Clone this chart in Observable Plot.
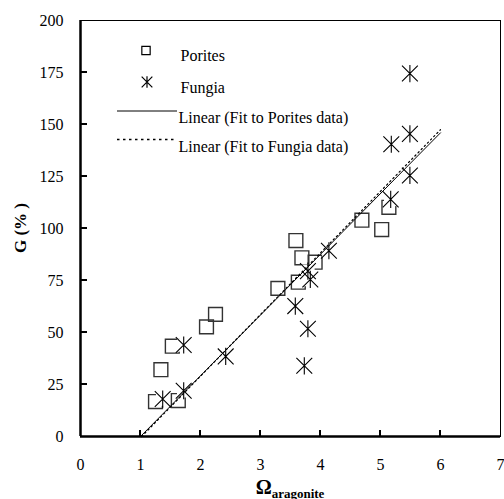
<!DOCTYPE html>
<html>
<head>
<meta charset="utf-8">
<script src="https://cdn.jsdelivr.net/npm/d3@7"></script>
<script src="https://cdn.jsdelivr.net/npm/@observablehq/plot@0.6"></script>
<style>
  html, body { margin: 0; padding: 0; background: #fff; }
  svg { display: block; }
  svg text { font-family: "Liberation Serif", "Times New Roman", serif !important; }
</style>
</head>
<body>
<div id="chart"></div>
<script>
// Porites data (squares)
const poritesX = [1.25, 1.63, 1.34, 1.53, 2.10, 2.25, 3.29, 3.63, 3.69, 3.91, 3.59, 4.69, 5.02, 5.14];
const poritesG = [16.8, 17.3, 32.1, 43.4, 52.7, 58.7, 71.2, 74.2, 85.9, 83.8, 94.2, 104.0, 99.5, 110.2];
// Fungia data (asterisks)
const fungiaX = [1.37, 1.72, 1.72, 2.42, 3.58, 3.73, 3.79, 3.79, 3.83, 4.14, 5.17, 5.18, 5.49, 5.49, 5.49];
const fungiaG = [18.0, 22.0, 44.0, 38.5, 62.7, 34.0, 51.8, 79.5, 75.5, 89.3, 114.0, 140.5, 125.5, 145.5, 174.5];
// Linear fits (endpoints)
const poritesFitX = [1.0, 6.0];
const poritesFitG = [0, 146];
const fungiaFitX = [1.02, 6.0];
const fungiaFitG = [0, 147.5];
// Ticks
const xTicks = [0, 1, 2, 3, 4, 5, 6, 7];
const yTicks = [0, 25, 50, 75, 100, 125, 150, 175, 200];
// Legend
const legendLabels = ["Porites", "Fungia", "Linear (Fit to Porites data)", "Linear (Fit to Fungia data)"];

const porites = poritesX.map((x, i) => ({x, g: poritesG[i]}));
const fungia = fungiaX.map((x, i) => ({x, g: fungiaG[i]}));
const pFit = poritesFitX.map((x, i) => ({x, g: poritesFitG[i]}));
const fFit = fungiaFitX.map((x, i) => ({x, g: fungiaFitG[i]}));

const font = "Liberation Serif, Times New Roman, serif";

// Excel-style star marker: an X plus a vertical stroke
const star = {
  draw(ctx, size) {
    const r = Math.sqrt(size / Math.PI);
    const d = r * 0.92;
    ctx.moveTo(0, -r); ctx.lineTo(0, r);
    ctx.moveTo(-d, -d); ctx.lineTo(d, d);
    ctx.moveTo(-d, d); ctx.lineTo(d, -d);
  }
};

const chart = Plot.plot({
  width: 504,
  height: 499,
  marginLeft: 80,
  marginRight: 4,
  marginTop: 20,
  marginBottom: 63,
  style: {fontFamily: font, fontSize: "16px", color: "#000", background: "#fff"},
  x: {type: "linear", domain: [0, 7]},
  y: {type: "linear", domain: [0, 200]},
  marks: [
    Plot.frame({stroke: "#000", strokeWidth: 1}),
    Plot.axisX(xTicks, {tickSize: 0, tickPadding: 22, label: null, fontSize: 16, fontFamily: font}),
    Plot.axisY(yTicks, {tickSize: 0, tickPadding: 17, label: null, fontSize: 16, fontFamily: font}),
    Plot.dot(porites, {x: "x", y: "g", symbol: "square", r: 7.8, stroke: "#333", strokeWidth: 1.4, fill: "none"}),
    Plot.dot(fungia, {x: "x", y: "g", symbol: "square", r: 7.6, stroke: "none", fill: "#fff"}),
    Plot.dot(fungia, {x: "x", y: "g", symbol: star, r: 8.6, stroke: "#000", strokeWidth: 1.1}),
    Plot.line(pFit, {x: "x", y: "g", stroke: "#000", strokeWidth: 1}),
    Plot.line(fFit, {x: "x", y: "g", stroke: "#000", strokeWidth: 1.2, strokeDasharray: "1.5,3"}),
    Plot.ruleX([0], {stroke: "#000", strokeWidth: 2.5}),
    Plot.ruleY([0], {stroke: "#000", strokeWidth: 2.5}),
    // legend symbols and labels
    Plot.dot([legendLabels[0]], {frameAnchor: "top-left", dx: 65.5, dy: 30, symbol: "square", r: 4.7, stroke: "#000", strokeWidth: 1.2, fill: "none"}),
    Plot.dot([legendLabels[1]], {frameAnchor: "top-left", dx: 66.5, dy: 61.5, symbol: star, r: 5.8, stroke: "#000", strokeWidth: 1.2}),
    Plot.text([legendLabels[0]], {frameAnchor: "top-left", dx: 100, dy: 29, text: d => d, textAnchor: "start", fontSize: 16, fontFamily: font, fill: "#000"}),
    Plot.text([legendLabels[1]], {frameAnchor: "top-left", dx: 100, dy: 61.5, text: d => d, textAnchor: "start", fontSize: 16, fontFamily: font, fill: "#000"}),
    Plot.text([legendLabels[2]], {frameAnchor: "top-left", dx: 98, dy: 91.5, text: d => d, textAnchor: "start", fontSize: 16, fontFamily: font, fill: "#000"}),
    Plot.text([legendLabels[3]], {frameAnchor: "top-left", dx: 98, dy: 120, text: d => d, textAnchor: "start", fontSize: 16, fontFamily: font, fill: "#000"})
  ]
});

const svg = d3.select(chart);
const yScale = chart.scale("y");
const xScale = chart.scale("x");
const y0 = yScale.apply(0);
const x0 = xScale.apply(0);
// inward ticks on y axis
yTicks.slice(1, -1).forEach(t => {
  svg.append("line").attr("x1", x0).attr("x2", x0 + 7).attr("y1", yScale.apply(t)).attr("y2", yScale.apply(t))
    .attr("stroke", "#000").attr("stroke-width", 2);
});
// inward ticks on x axis
xTicks.slice(1, -1).forEach(t => {
  svg.append("line").attr("y1", y0).attr("y2", y0 - 6).attr("x1", xScale.apply(t)).attr("x2", xScale.apply(t))
    .attr("stroke", "#000").attr("stroke-width", 2);
});
// legend lines
svg.append("line").attr("x1", 117).attr("x2", 177).attr("y1", 111).attr("y2", 111).attr("stroke", "#000").attr("stroke-width", 1);
svg.append("line").attr("x1", 117).attr("x2", 174).attr("y1", 139.5).attr("y2", 139.5).attr("stroke", "#000").attr("stroke-width", 1.5).attr("stroke-dasharray", "2.5,3.5");
// axis titles
const xt = svg.append("text").attr("x", 290).attr("y", 494).attr("text-anchor", "middle")
  .attr("font-weight", "bold").attr("fill", "#000");
xt.append("tspan").attr("font-size", 20).text("Ω");
xt.append("tspan").attr("font-size", 13).attr("dy", 4).text("aragonite");
svg.append("text").attr("transform", "translate(26,228) rotate(-90)").attr("text-anchor", "middle")
  .attr("font-weight", "bold").attr("font-size", 17).attr("fill", "#000").text("G (% )");

document.getElementById("chart").appendChild(chart);
</script>
</body>
</html>
